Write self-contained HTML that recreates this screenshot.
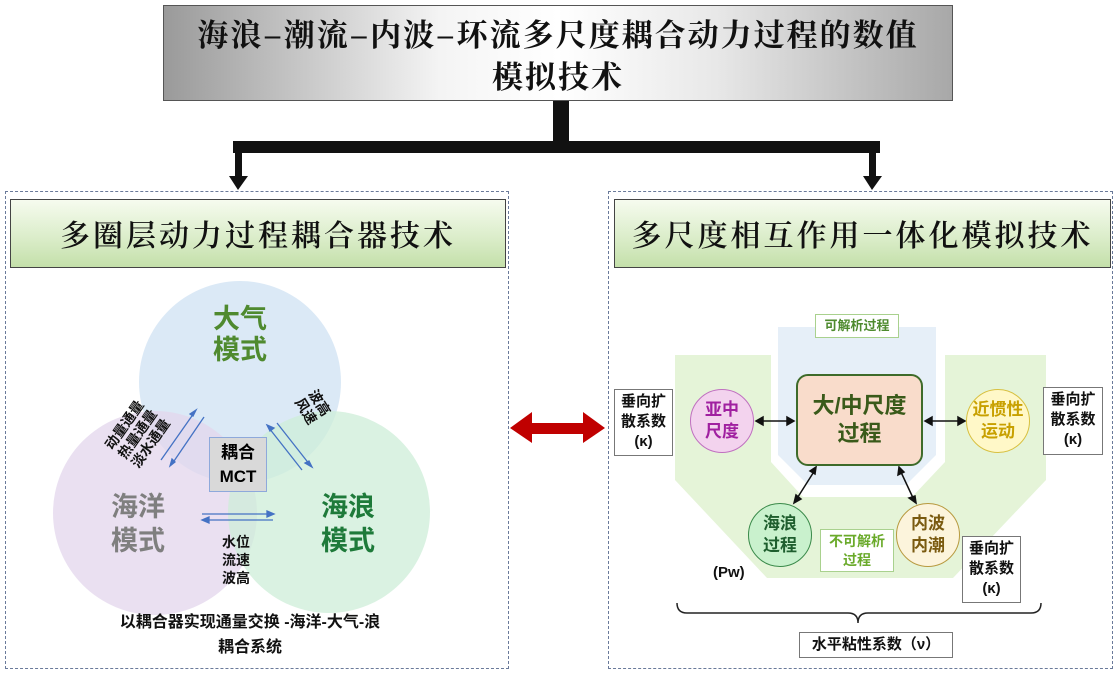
<!DOCTYPE html>
<html><head><meta charset="utf-8">
<style>
body{margin:0;width:1114px;height:674px;background:#fff;position:relative;overflow:hidden;font-family:"Liberation Sans","Noto Sans CJK SC",sans-serif;}
.a{position:absolute;}
.title{left:163px;top:5px;width:790px;height:96px;border:1px solid #555;background:linear-gradient(90deg,#9a9a9a 0%,#f4f4f4 35%,#fff 50%,#e8e8e8 70%,#a8a8a8 100%);font-family:"Noto Serif CJK SC","WenQuanYi Zen Hei",serif;font-weight:bold;font-size:31px;line-height:42px;text-align:center;letter-spacing:2px;padding-top:6px;box-sizing:border-box;color:#111;}
.outer{border:1px dashed #6a7a9a;}
.hdr{border:1px solid #444;background:linear-gradient(180deg,#f6fbef 0%,#d9ecc7 60%,#c4e0aa 100%);font-family:"Noto Serif CJK SC","WenQuanYi Zen Hei",serif;font-weight:600;font-size:30px;text-align:center;line-height:66px;letter-spacing:3px;color:#111;}
.kb{border:1px solid #777;background:#fff;font-weight:bold;font-size:14px;line-height:20px;text-align:center;color:#111;}
.c{border-radius:50%;text-align:center;font-weight:bold;font-size:17px;line-height:22px;display:flex;align-items:center;justify-content:center;box-sizing:border-box;}
</style></head><body>
<div class="a title">海浪–潮流–内波–环流多尺度耦合动力过程的数值<br>模拟技术</div>
<svg class="a" style="left:0;top:0" width="1114" height="674">
<rect x="553" y="101" width="16" height="44" fill="#111"/>
<rect x="233" y="141" width="647" height="12" fill="#111"/>
<rect x="235" y="153" width="7" height="25" fill="#111"/>
<polygon points="229,176 248,176 238,190" fill="#111"/>
<rect x="869" y="153" width="7" height="25" fill="#111"/>
<polygon points="863,176 882,176 872,190" fill="#111"/>
<polygon points="510,428 532,412 532,423 583,423 583,412 605,428 583,443 583,434 532,434 532,443" fill="#c00000"/>
<circle cx="240" cy="382" r="101" fill="#cfe2f3" fill-opacity="0.75"/>
<circle cx="155" cy="513" r="102" fill="#e3d5ec" fill-opacity="0.75"/>
<circle cx="329" cy="512" r="101" fill="#cdeed8" fill-opacity="0.75"/>
<g stroke="#4472c4" stroke-width="1.3" fill="#4472c4">
<line x1="161" y1="460" x2="194" y2="413"/><polygon points="196,410 190,414 193,416"/>
<line x1="204" y1="417" x2="172" y2="464"/><polygon points="170,466 172,459 175,462"/>
<line x1="277" y1="423" x2="310" y2="465"/><polygon points="312,467 305,463 309,461"/>
<line x1="302" y1="470" x2="269" y2="428"/><polygon points="267,425 274,428 270,431"/>
<line x1="202" y1="514" x2="272" y2="514"/><polygon points="274,514 267,511 267,517"/>
<line x1="273" y1="520" x2="204" y2="520"/><polygon points="202,520 209,517 209,523"/>
</g>
<polygon points="675,355 1046,355 1046,480 953,578 767,578 675,480" fill="#e5f4d8"/>
<polygon points="771,327 945,327 945,462 912,497 803,497 771,462" fill="#fff"/>
<polygon points="778,327 936,327 936,455 906,485 808,485 778,455" fill="#e6eff8"/>
<path d="M677,603 q0,10 10,10 h161 q10,0 10,10 q0,-10 10,-10 h163 q10,0 10,-10" fill="none" stroke="#222" stroke-width="1.5"/>
<g stroke="#111" stroke-width="1.5" fill="#111">
<line x1="758" y1="421" x2="792" y2="421"/><polygon points="756,421 763,417 763,425"/><polygon points="794,421 787,417 787,425"/>
<line x1="927" y1="421" x2="963" y2="421"/><polygon points="925,421 932,417 932,425"/><polygon points="965,421 958,417 958,425"/>
<line x1="815" y1="470" x2="796" y2="500"/><polygon points="816,467 810,471 815,474"/><polygon points="794,503 796,495 801,499"/>
<line x1="900" y1="470" x2="914" y2="500"/><polygon points="899,467 898,475 904,472"/><polygon points="916,503 909,498 915,496"/>
</g>
</svg>
<div class="a outer" style="left:5px;top:191px;width:502px;height:476px"></div>
<div class="a outer" style="left:608px;top:191px;width:503px;height:476px"></div>
<div class="a hdr" style="left:10px;top:199px;width:494px;height:67px">多圈层动力过程耦合器技术</div>
<div class="a hdr" style="left:614px;top:199px;width:495px;height:67px">多尺度相互作用一体化模拟技术</div>

<div class="a" style="left:195px;top:304px;width:90px;text-align:center;font-weight:bold;font-size:27px;line-height:31px;color:#4f8a2f">大气<br>模式</div>
<div class="a" style="left:93px;top:490px;width:90px;text-align:center;font-weight:bold;font-size:27px;line-height:34px;color:#7f7f7f">海洋<br>模式</div>
<div class="a" style="left:303px;top:490px;width:90px;text-align:center;font-weight:bold;font-size:27px;line-height:34px;color:#1e7a3a">海浪<br>模式</div>
<div class="a" style="left:209px;top:437px;width:58px;height:55px;border:1px solid #8ea9db;background:#d9d9d9;text-align:center;font-weight:bold;font-size:17px;line-height:24px;padding-top:3px;box-sizing:border-box">耦合<br>MCT</div>
<div class="a" style="left:100px;top:392px;width:100px;font-weight:bold;font-size:14px;line-height:16px;transform:rotate(-55deg);transform-origin:center;text-align:left;color:#111">动量通量<br>热量通量<br>淡水通量</div>
<div class="a" style="left:296px;top:396px;width:40px;font-weight:bold;font-size:14px;line-height:16px;transform:rotate(58deg);transform-origin:center;color:#111">波高<br>风速</div>
<div class="a" style="left:222px;top:533px;width:40px;font-weight:bold;font-size:14px;line-height:18px;color:#111">水位<br>流速<br>波高</div>
<div class="a" style="left:40px;top:610px;width:420px;text-align:center;font-weight:bold;font-size:16px;line-height:25px;color:#111">以耦合器实现通量交换 -海洋-大气-浪<br>耦合系统</div>

<div class="a" style="left:815px;top:314px;width:84px;height:24px;border:1px solid #a9d18e;background:#fff;box-sizing:border-box;text-align:center;font-weight:bold;font-size:13px;line-height:22px;color:#4e8a2e">可解析过程</div>
<div class="a" style="left:820px;top:529px;width:74px;height:43px;border:1px solid #a9d18e;background:#fff;box-sizing:border-box;text-align:center;font-weight:bold;font-size:14px;line-height:19px;color:#6aaa2a;padding-top:2px">不可解析<br>过程</div>
<div class="a" style="left:796px;top:374px;width:127px;height:92px;border:2px solid #3e6b2a;border-radius:12px;background:#f9dccb;box-sizing:border-box;text-align:center;font-weight:bold;font-size:22px;line-height:28px;color:#3a5a1a;padding-top:16px">大/中尺度<br>过程</div>
<div class="a c" style="left:690px;top:389px;width:64px;height:64px;background:#f3d3ee;border:1px solid #c070c0;color:#a020a0">亚中<br>尺度</div>
<div class="a c" style="left:966px;top:389px;width:64px;height:64px;background:#fff8c8;border:1px solid #d8c040;color:#c8a000">近惯性<br>运动</div>
<div class="a c" style="left:748px;top:503px;width:64px;height:64px;background:#c9f1cd;border:1px solid #3a8a4a;color:#1e5e2e">海浪<br>过程</div>
<div class="a c" style="left:896px;top:503px;width:64px;height:64px;background:#fcf4dc;border:1px solid #b89a40;color:#7a5a10">内波<br>内潮</div>
<div class="a kb" style="left:614px;top:389px;width:59px;height:67px;padding-top:2px;box-sizing:border-box;font-size:15px">垂向扩<br>散系数<br>(κ)</div>
<div class="a kb" style="left:1043px;top:387px;width:60px;height:68px;padding-top:2px;box-sizing:border-box;font-size:15px">垂向扩<br>散系数<br>(κ)</div>
<div class="a kb" style="left:962px;top:536px;width:59px;height:67px;padding-top:2px;box-sizing:border-box;font-size:15px">垂向扩<br>散系数<br>(κ)</div>
<div class="a" style="left:713px;top:564px;font-weight:bold;font-size:15px;color:#111">(Pw)</div>
<div class="a kb" style="left:799px;top:632px;width:154px;height:26px;line-height:24px;box-sizing:border-box;font-size:15px">水平粘性系数（ν）</div>
</body></html>
